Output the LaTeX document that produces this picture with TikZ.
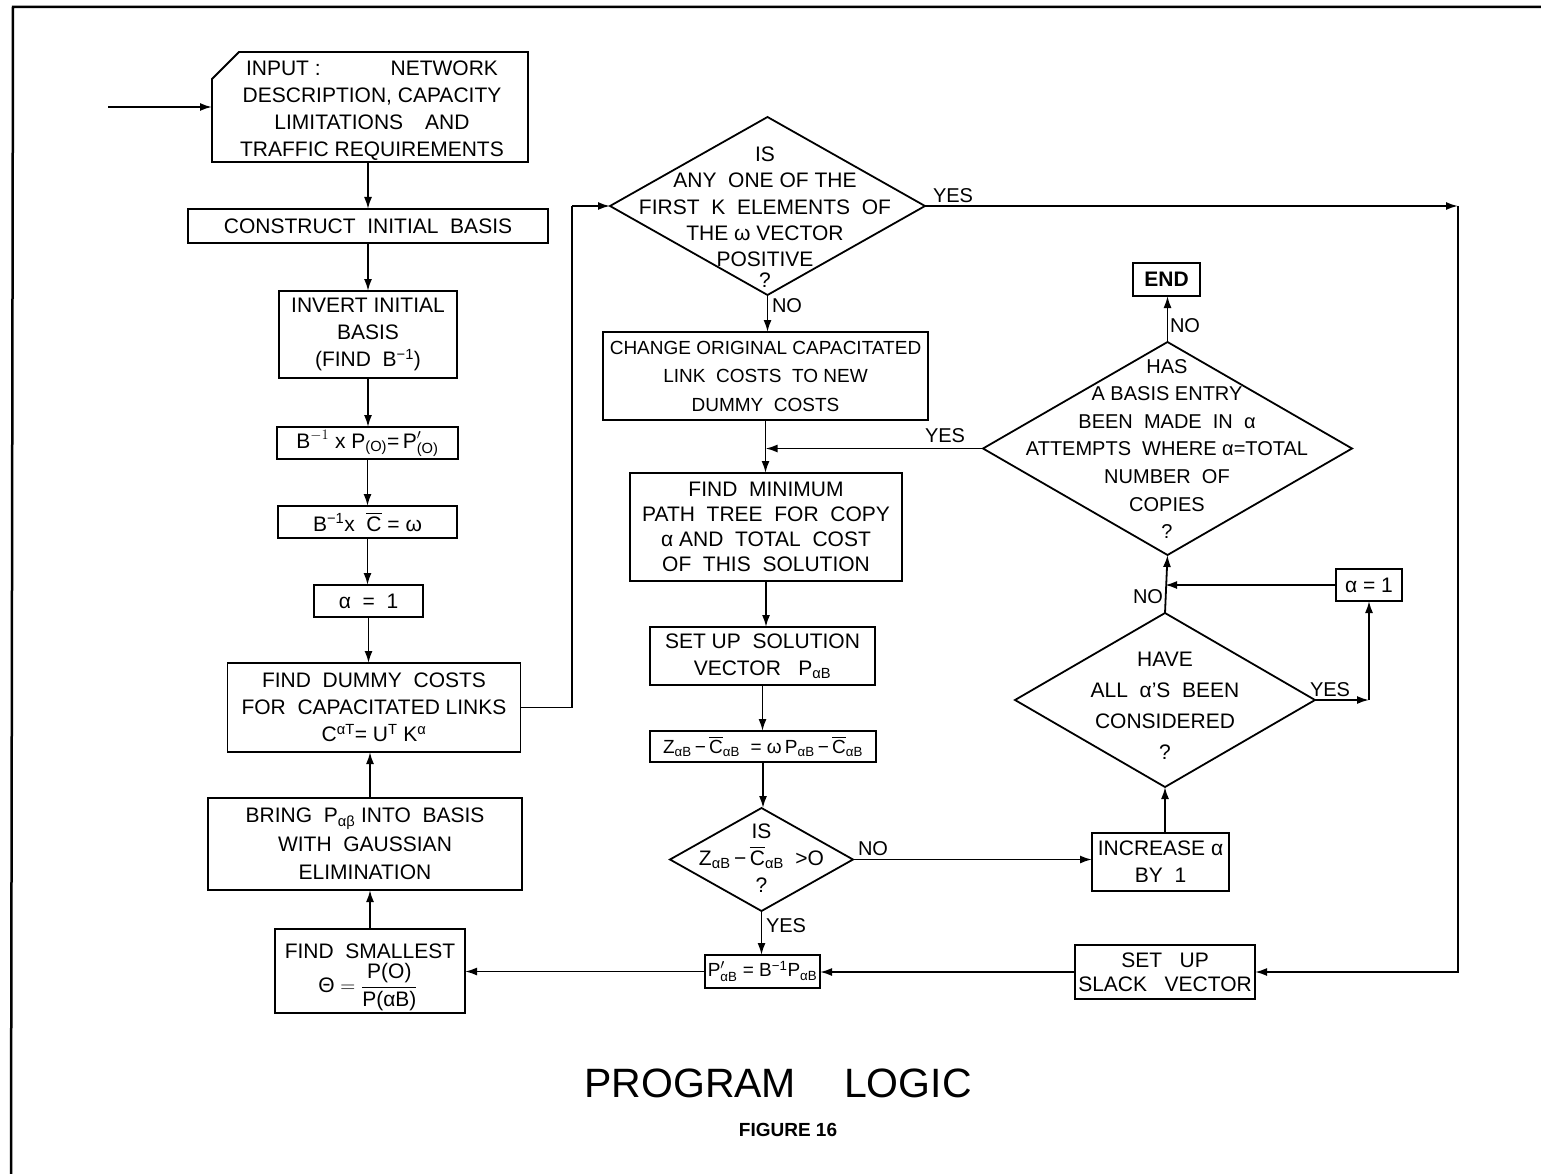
\documentclass[tikz,border=0pt]{standalone}
\usepackage{fontspec}
\usepackage{amsmath}
\setmainfont{Liberation Sans}
\usetikzlibrary{arrows.meta,shapes.geometric}
\newcommand{\boxfont}{\fontsize{21}{27}\selectfont}
\newcommand{\labfont}{\fontsize{20}{24}\selectfont}
\newcommand{\cbar}{$\overline{\text{C}}$}
\begin{document}
\begin{tikzpicture}[x=1pt,y=-1pt,
  every node/.style={inner sep=0pt, outer sep=0pt},
  box/.style={draw, line width=1.8pt, align=center, font=\boxfont},
  txt/.style={align=center, font=\boxfont},
  dia/.style={draw, line width=1.8pt, shape=diamond},
  lab/.style={font=\labfont},
  conn/.style={line width=1.8pt},
  arr/.style={conn, -{Latex[length=12pt,width=8pt]}},
]
\useasboundingbox (0,0) rectangle (1541,1174);
% page frame
\draw[line width=2.5pt] (11,1174) -- (13,7) -- (1541,7);

% ---------- left column ----------
\node[txt, minimum width=316pt, minimum height=110pt] (input) at (370,107) {};
\node[txt] (inputt) at (372,111)
  {INPUT :\hspace{70pt}NETWORK\\DESCRIPTION, CAPACITY\\LIMITATIONS\hspace{22pt}AND\\TRAFFIC REQUIREMENTS};
\draw[line width=1.8pt] (input.south west) -- ([yshift=-27pt]input.north west)
  -- ([xshift=27pt]input.north west) -- (input.north east) -- (input.south east) -- cycle;
\coordinate (start) at (108,107);

\node[box, minimum width=360pt, minimum height=34pt] (construct) at (368,226)
  {CONSTRUCT\ \ INITIAL\ \ BASIS};
\node[box, minimum width=178pt, minimum height=87pt] (invert) at (368,334.5)
  {INVERT INITIAL\\BASIS\\(FIND\ \ B\textsuperscript{−1})};
\node[box, minimum width=181pt, minimum height=32pt] (bp) at (367.5,443)
  {$\text{B}^{-1}$ x $\text{P}_{\text{(O)}}\text{=}\,\text{P}_{\text{(O)}}^{\prime}$};
\node[box, minimum width=179pt, minimum height=32pt] (bc) at (367.5,522)
  {B\textsuperscript{−1}x\ \ \cbar\ = ω};
\node[box, minimum width=109pt, minimum height=32pt] (a1) at (368.5,601)
  {α\ \ =\ \ 1};
\node[box, minimum width=293pt, minimum height=89pt] (dummy) at (374,707.5)
  {FIND\ \ DUMMY\ \ COSTS\\FOR\ \ CAPACITATED\ LINKS\\C\textsuperscript{αT}= U\textsuperscript{T} K\textsuperscript{α}};
\node[box, minimum width=314pt, minimum height=92pt, font=\fontsize{21}{28.5}\selectfont] (bring) at (365,844)
  {BRING\ \ P\textsubscript{αβ} INTO\ \ BASIS\\WITH\ \ GAUSSIAN\\ELIMINATION};
\node[box, minimum width=190pt, minimum height=84pt] (smallest) at (370,971) {};
\node[txt] (smallestt) at (370,951) {FIND\ \ SMALLEST};
\node[txt] (smallestf) at (368,987) {$\text{Θ}=\dfrac{\text{P(O)}}{\text{P(αB)}}$};

% ---------- middle column ----------
\node[dia, minimum width=315pt, minimum height=178pt] (d1) at (767.5,206) {};
\node[txt, font=\fontsize{21}{26.4}\selectfont] (d1t) at (765,217)
  {IS\\ANY\ \ ONE OF THE\\FIRST\ \ K\ \ ELEMENTS\ \ OF\\THE ω VECTOR\\POSITIVE\\[-6pt]?};
\node[box, minimum width=325pt, minimum height=88pt, font=\fontsize{19}{28.5}\selectfont] (change) at (765.5,376)
  {CHANGE ORIGINAL CAPACITATED\\LINK\ \ COSTS\ \ TO NEW\\DUMMY\ \ COSTS};
\node[box, minimum width=272pt, minimum height=108pt, font=\fontsize{21}{25}\selectfont] (findmin) at (766,527)
  {FIND\ \ MINIMUM\\PATH\ \ TREE\ \ FOR\ \ COPY\\α AND\ \ TOTAL\ \ COST\\OF\ \ THIS\ \ SOLUTION};
\node[box, minimum width=225pt, minimum height=58pt] (solution) at (762.5,656)
  {SET UP\ \ SOLUTION\\VECTOR\ \ \ P\textsubscript{αB}};
\node[box, minimum width=226pt, minimum height=31pt, font=\fontsize{19}{24}\selectfont] (zbox) at (763,746.5)
  {Z\textsubscript{αB}\,−\,\cbar\textsubscript{αB}\ \ = ω\,P\textsubscript{αB}\,−\,\cbar\textsubscript{αB}};
\node[dia, minimum width=183pt, minimum height=103pt] (d2) at (761.5,859.5) {};
\node[txt] (d2t) at (761.5,858)
  {IS\\Z\textsubscript{αB}\,−\,\cbar\textsubscript{αB}\ \ {>}O\\?};
\node[box, minimum width=115pt, minimum height=33pt, font=\fontsize{19}{24}\selectfont] (pprime) at (762.5,971.5)
  {$\text{P}_{\text{αB}}^{\prime}$ = B\textsuperscript{−1}P\textsubscript{αB}};

% ---------- right side ----------
\node[box, minimum width=67pt, minimum height=33pt, font=\boxfont\bfseries] (end) at (1166.5,279.5) {END};
\node[dia, minimum width=369pt, minimum height=213pt] (d4) at (1167.5,448.5) {};
\node[txt, font=\fontsize{20}{27.6}\selectfont] (d4t) at (1167,449)
  {HAS\\A BASIS ENTRY\\BEEN\ \ MADE\ \ IN\ \ α\\ATTEMPTS\ \ WHERE α=TOTAL\\NUMBER\ \ OF\\COPIES\\?};
\node[box, minimum width=66pt, minimum height=32pt] (a2) at (1369,585) {α = 1};
\node[dia, minimum width=300pt, minimum height=174pt] (d3) at (1165,700) {};
\node[txt, font=\fontsize{21}{31}\selectfont] (d3t) at (1165,706)
  {HAVE\\ALL\ \ α'S\ \ BEEN\\CONSIDERED\\?};
\node[box, minimum width=137pt, minimum height=58pt] (increase) at (1160.5,862)
  {INCREASE α\\BY\ \ 1};
\node[box, minimum width=180pt, minimum height=54pt, font=\fontsize{21}{24}\selectfont] (slack) at (1165,972)
  {SET\ \ \ UP\\SLACK\ \ \ VECTOR};

\coordinate (c1) at (572,206);
\coordinate (c2) at (1458,206);
\coordinate (c3) at (1369,700);

% ---------- connectors ----------
\draw[arr] (start) -- (input.west);
\draw[arr] (input.south -| construct.north) -- (construct.north);
\draw[arr] (construct.south) -- (construct.south |- invert.north);
\draw[arr] (invert.south) -- (invert.south |- bp.north);
\draw[arr] (bp.south) -- (bp.south |- bc.north);
\draw[arr] (bc.south) -- (bc.south |- a1.north);
\draw[arr] (a1.south) -- (a1.south |- dummy.north);
\draw[arr] (smallest.north) -- (smallest.north |- bring.south);
\draw[arr] (smallest.north |- bring.north) -- (smallest.north |- dummy.south);
\draw[conn] (dummy.east) -| (c1);
\draw[arr] (c1) -- (d1.west);
\draw[arr] (d1.east) -- (c2);
\draw[arr] (c2) |- (slack.east);
\draw[arr] (d1.south) -- (d1.south |- change.north);
\draw[arr] (change.south) -- (change.south |- findmin.north);
\draw[arr] (d4.west) -- (d4.west -| change.south);
\draw[arr] (findmin.south) -- (findmin.south |- solution.north);
\draw[arr] (solution.south) -- (solution.south |- zbox.north);
\draw[arr] (zbox.south) -- (zbox.south |- d2.north);
\draw[arr] (d2.east) -- (d2.east -| increase.west);
\draw[arr] (d2.south) -- (d2.south |- pprime.north);
\draw[arr] (pprime.west) -- (pprime.west -| smallest.east);
\draw[arr] (slack.west) -- (slack.west -| pprime.east);
\draw[arr] (increase.north -| d3.south) -- (d3.south);
\draw[arr] (d3.east) -- (c3);
\draw[arr] (c3) -- (a2.south);
\draw[arr] (a2.west) -- (a2.west -| d3.north);
\draw[arr] (d3.north) -- (d4.south);
\draw[arr] (d4.north) -- (d4.north |- end.south);

% ---------- labels ----------
\node[lab] (yes1) at (953,196) {YES};
\node[lab] (no1) at (787,306) {NO};
\node[lab] (yes2) at (945,436) {YES};
\node[lab] (no2) at (873,849) {NO};
\node[lab] (yes3) at (786,926) {YES};
\node[lab] (yes4) at (1330,690) {YES};
\node[lab] (no3) at (1148,597) {NO};
\node[lab] (no4) at (1185,326) {NO};

% ---------- title ----------
\node[font=\fontsize{41}{48}\selectfont] (title) at (778,1083) {PROGRAM\hspace{48pt}LOGIC};
\node[font=\fontsize{19}{23}\selectfont\bfseries] (fig) at (788,1130) {FIGURE 16};
\end{tikzpicture}
\end{document}
